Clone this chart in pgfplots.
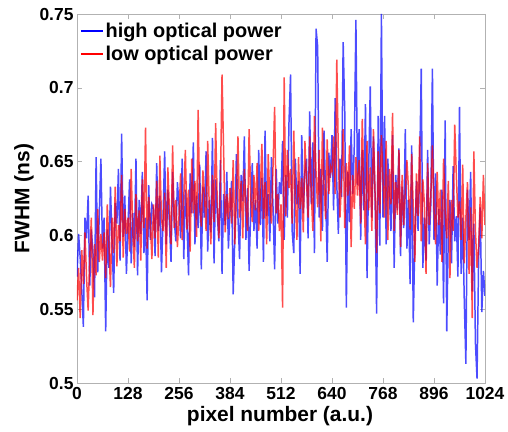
\documentclass[border=0pt]{standalone}
\usepackage{fontspec}
\setmainfont{Liberation Sans}
\usepackage{pgfplots}
\pgfplotsset{compat=1.18}
\usepackage{pgfplotstable}

% FWHM per pixel, every 4 pixels
\pgfplotstableread{
x high low
0 0.572 0.556
4 0.601 0.578
8 0.585 0.544
12 0.563 0.590
16 0.538 0.567
20 0.612 0.602
24 0.598 0.571
28 0.627 0.549
32 0.566 0.585
36 0.604 0.612
40 0.589 0.546
44 0.558 0.594
48 0.653 0.573
52 0.575 0.618
56 0.615 0.582
60 0.652 0.601
64 0.591 0.583
68 0.612 0.602
72 0.535 0.571
76 0.604 0.621
80 0.578 0.594
84 0.633 0.565
88 0.596 0.612
92 0.561 0.588
96 0.622 0.633
100 0.608 0.579
104 0.645 0.607
108 0.583 0.596
112 0.669 0.641
116 0.599 0.585
120 0.627 0.618
124 0.574 0.601
128 0.606 0.612
132 0.638 0.589
136 0.581 0.645
140 0.615 0.603
144 0.592 0.578
148 0.652 0.628
152 0.573 0.596
156 0.624 0.617
160 0.601 0.583
164 0.643 0.638
168 0.588 0.605
172 0.612 0.673
176 0.556 0.591
180 0.634 0.626
184 0.597 0.609
188 0.621 0.584
192 0.618 0.621
196 0.586 0.598
200 0.649 0.637
204 0.603 0.585
208 0.627 0.654
212 0.575 0.611
216 0.612 0.603
220 0.657 0.629
224 0.594 0.578
228 0.631 0.646
232 0.608 0.617
236 0.582 0.594
240 0.643 0.661
244 0.611 0.605
248 0.596 0.624
252 0.636 0.592
256 0.621 0.613
260 0.598 0.642
264 0.652 0.597
268 0.584 0.625
272 0.631 0.658
276 0.608 0.604
280 0.573 0.631
284 0.642 0.589
288 0.615 0.652
292 0.663 0.615
296 0.594 0.637
300 0.627 0.599
304 0.605 0.685
308 0.648 0.621
312 0.577 0.606
316 0.633 0.644
320 0.612 0.627
324 0.657 0.603
328 0.589 0.664
332 0.624 0.618
336 0.602 0.594
340 0.666 0.641
344 0.581 0.609
348 0.638 0.676
352 0.615 0.622
356 0.596 0.598
360 0.651 0.634
364 0.574 0.709
368 0.628 0.657
372 0.607 0.602
376 0.643 0.628
380 0.591 0.611
384 0.616 0.632
388 0.637 0.608
392 0.560 0.651
396 0.598 0.594
400 0.655 0.623
404 0.612 0.667
408 0.584 0.612
412 0.641 0.637
416 0.623 0.598
420 0.667 0.645
424 0.597 0.619
428 0.632 0.603
432 0.576 0.672
436 0.618 0.626
440 0.649 0.609
444 0.603 0.641
448 0.624 0.617
452 0.591 0.649
456 0.658 0.603
460 0.607 0.628
464 0.639 0.662
468 0.582 0.611
472 0.671 0.636
476 0.613 0.594
480 0.628 0.655
484 0.596 0.622
488 0.653 0.608
492 0.619 0.647
496 0.577 0.687
500 0.645 0.615
504 0.608 0.628
508 0.636 0.603
512 0.628 0.621
516 0.664 0.551
520 0.597 0.707
524 0.641 0.613
528 0.612 0.658
532 0.676 0.632
536 0.709 0.645
540 0.603 0.608
544 0.588 0.671
548 0.652 0.624
552 0.621 0.597
556 0.637 0.653
560 0.574 0.618
564 0.668 0.639
568 0.615 0.602
572 0.643 0.664
576 0.652 0.638
580 0.598 0.612
584 0.684 0.667
588 0.621 0.629
592 0.663 0.603
596 0.588 0.681
600 0.740 0.642
604 0.728 0.619
608 0.612 0.658
612 0.645 0.596
616 0.603 0.673
620 0.671 0.634
624 0.627 0.611
628 0.582 0.665
632 0.656 0.628
636 0.639 0.647
640 0.668 0.643
644 0.617 0.667
648 0.693 0.628
652 0.635 0.719
656 0.601 0.654
660 0.652 0.612
664 0.626 0.638
668 0.731 0.672
672 0.684 0.605
676 0.551 0.649
680 0.643 0.627
684 0.609 0.661
688 0.672 0.592
692 0.628 0.641
696 0.661 0.618
700 0.746 0.653
704 0.634 0.627
708 0.672 0.651
712 0.597 0.608
716 0.658 0.679
720 0.617 0.632
724 0.689 0.594
728 0.571 0.664
732 0.643 0.617
736 0.701 0.646
740 0.612 0.603
744 0.667 0.672
748 0.628 0.629
752 0.547 0.588
756 0.681 0.657
760 0.593 0.615
764 0.750 0.668
768 0.612 0.638
772 0.681 0.612
776 0.594 0.664
780 0.652 0.597
784 0.627 0.645
788 0.603 0.621
792 0.668 0.683
796 0.578 0.603
800 0.641 0.636
804 0.617 0.614
808 0.659 0.658
812 0.586 0.592
816 0.633 0.641
820 0.605 0.607
824 0.672 0.629
828 0.591 0.651
832 0.624 0.631
836 0.567 0.604
840 0.661 0.655
844 0.541 0.618
848 0.598 0.582
852 0.637 0.642
856 0.603 0.613
860 0.646 0.667
864 0.713 0.596
868 0.578 0.638
872 0.612 0.621
876 0.583 0.574
880 0.658 0.649
884 0.594 0.607
888 0.621 0.626
892 0.713 0.661
896 0.597 0.618
900 0.642 0.594
904 0.566 0.643
908 0.618 0.607
912 0.587 0.631
916 0.631 0.582
920 0.554 0.652
924 0.678 0.615
928 0.535 0.598
932 0.603 0.637
936 0.624 0.571
940 0.581 0.624
944 0.647 0.603
948 0.596 0.675
952 0.613 0.641
956 0.572 0.612
960 0.687 0.623
964 0.574 0.597
968 0.612 0.648
972 0.556 0.581
976 0.513 0.612
980 0.631 0.636
984 0.597 0.574
988 0.643 0.619
992 0.562 0.544
996 0.608 0.657
1000 0.527 0.603
1004 0.503 0.578
1008 0.584 0.592
1012 0.619 0.626
1016 0.548 0.598
1020 0.576 0.641
1024 0.559 0.607
}\fwhm

\begin{document}
\begin{tikzpicture}
\path[use as bounding box] (-77bp,-49bp) rectangle (431bp,383bp);
\begin{axis}[
    at={(0,0)}, anchor=south west,
    scale only axis,
    width=408bp, height=369bp,
    xmin=0, xmax=1024,
    ymin=0.5, ymax=0.75,
    xtick={0,128,256,384,512,640,768,896,1024},
    xticklabels={0,128,256,384,512,640,768,896,1024},
    ytick={0.5,0.55,0.6,0.65,0.7,0.75},
    yticklabels={0.5,0.55,0.6,0.65,0.7,0.75},
    axis line style={black!30},
    tick style={black!30},
    major tick length=5bp,
    tick align=inside,
    tick label style={font=\fontsize{17.5}{20}\selectfont\bfseries},
    label style={font=\fontsize{21}{24}\selectfont\bfseries},
    /pgf/number format/assume math mode=true,
    xticklabel style={yshift=-1bp},
    xlabel={pixel number (a.u.)},
    ylabel={FWHM (ns)},
    xlabel style={at={(axis description cs:0.4975,-0.09)}, anchor=center},
    ylabel style={at={(axis description cs:-0.13,0.5)}, anchor=center},
    legend style={at={(0,1)}, anchor=north west, xshift=1bp, yshift=-5bp,
        draw=none, fill=none, row sep=3bp, inner sep=2bp,
        font=\fontsize{20}{22}\selectfont\bfseries},
    legend cell align=left,
    legend image code/.code={\draw[#1, draw opacity=1, line width=1.4pt] (0bp,0bp) -- (22bp,0bp);},
]
\addplot[blue, line width=1.5pt, draw opacity=0.7] table[x=x, y=high] {\fwhm};
\addlegendentry{high optical power}
\addplot[red, line width=1.5pt, draw opacity=0.7] table[x=x, y=low] {\fwhm};
\addlegendentry{low optical power}
\end{axis}
\end{tikzpicture}
\end{document}
